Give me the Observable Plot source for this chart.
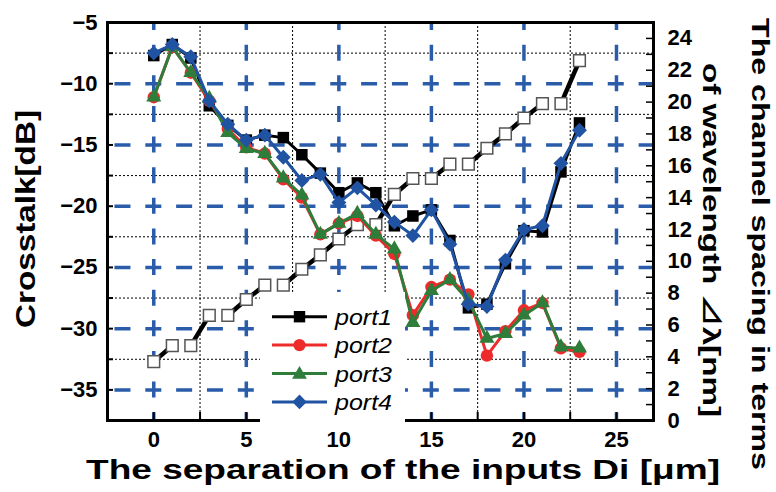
<!DOCTYPE html>
<html><head><meta charset="utf-8">
<script src="https://cdn.jsdelivr.net/npm/d3@7"></script>
<script src="https://cdn.jsdelivr.net/npm/@observablehq/plot@0.6"></script>
<style>body{margin:0;background:#fff} #chart{width:776px;height:492px}</style>
</head><body><div id="chart"></div>
<script>
// ---- data ----
const separation = [0,1,2,3,4,5,6,7,8,9,10,11,12,13,14,15,16,17,18,19,20,21,22,23];
const port1 = [-7.7,-6.8,-7.9,-11.8,-13.4,-14.6,-14.2,-14.4,-15.8,-17.3,-18.9,-18.1,-18.9,-21.6,-20.8,-20.3,-22.8,-28.3,-28.0,-24.7,-22.0,-22.1,-17.2,-13.2];
const port2 = [-11.1,-7.0,-9.1,-11.4,-13.7,-15.2,-15.7,-17.8,-19.3,-22.3,-21.4,-20.8,-22.4,-23.9,-28.9,-26.6,-26.0,-27.2,-32.2,-30.2,-28.5,-27.9,-31.6,-31.9];
const port3 = [-11.1,-7.0,-9.1,-11.2,-14.0,-15.3,-15.7,-17.7,-19.1,-22.3,-21.4,-20.6,-22.3,-23.5,-29.5,-26.9,-26.0,-27.7,-30.8,-30.4,-28.9,-27.9,-31.5,-31.6];
const port4 = [-7.5,-6.8,-7.8,-11.4,-13.3,-14.6,-14.2,-16.0,-17.9,-17.4,-19.7,-18.5,-19.9,-21.3,-22.4,-20.3,-23.1,-28.0,-28.2,-24.4,-21.9,-21.6,-16.5,-13.8];
const spacing = [3.7,4.7,4.7,6.6,6.6,7.6,8.5,8.5,9.5,10.4,11.4,12.3,12.3,14.2,15.2,15.2,16.1,16.1,17.1,18.0,19.0,19.9,19.9,22.6];
const seriesNames = ["port1","port2","port3","port4"];
const xLabelTicks = [0,5,10,15,20,25];
const xMinorGrid = [2.5,7.5,12.5,17.5,22.5];
const xTickMarks = [0,2.5,5,7.5,10,12.5,15,17.5,20,22.5,25];
const yLabelTicks = [-35,-30,-25,-20,-15,-10,-5];
const yMajorGrid = [-35,-30,-25,-20,-15,-10];
const yMinorGrid = [-32.5,-27.5,-22.5,-17.5,-12.5,-7.5];
const yTickMarks = [-35,-32.5,-30,-27.5,-25,-22.5,-20,-17.5,-15,-12.5,-10,-7.5];
const rLabelTicks = [0,2,4,6,8,10,12,14,16,18,20,22,24];
const rTickMarks = [1,2,3,4,5,6,7,8,9,10,11,12,13,14,15,16,17,18,19,20,21,22,23,24];

// ---- scales ----
const Y0 = -37.5, Y1 = -5, R1 = 25;
const toLeft = r => Y0 + r * (Y1 - Y0) / R1;
const toRight = v => (v - Y0) * R1 / (Y1 - Y0);

const blue = "#2a5caa";
const series = [
  {name: seriesNames[0], values: port1, color: "#000000", symbol: "square", r: 6.5, d3sym: d3.symbolSquare},
  {name: seriesNames[1], values: port2, color: "#ee2b2b", symbol: "circle", r: 6.2, d3sym: d3.symbolCircle},
  {name: seriesNames[2], values: port3, color: "#2e7d3b", symbol: "triangle", r: 5.6, d3sym: d3.symbolTriangle},
  {name: seriesNames[3], values: port4, color: "#2153a3", symbol: "diamond2", r: 6.7, d3sym: d3.symbolDiamond2}
];
const rowsOf = s => separation.map((x, i) => ({x, y: s.values[i]}));
const spacingRows = separation.map((x, i) => ({x, y: toLeft(spacing[i])}));
const spacingLinks = spacingRows.slice(1)
  .map((d, i) => ({x1: spacingRows[i].x, y1: spacingRows[i].y, x2: d.x, y2: d.y}))
  .filter(d => d.y1 !== d.y2);

const seriesMarks = series.flatMap(s => [
  Plot.line(rowsOf(s), {x: "x", y: "y", stroke: s.color, strokeWidth: 3}),
  Plot.dot(rowsOf(s), {x: "x", y: "y", symbol: s.symbol, r: s.r, fill: s.color, stroke: "none"})
]);

const plot = Plot.plot({
  width: 776, height: 492,
  marginLeft: 107, marginRight: 123, marginTop: 22, marginBottom: 72,
  x: {domain: [-2.5, 27]},
  y: {domain: [Y0, Y1]},
  style: {fontFamily: "'Liberation Sans', Arial, sans-serif", fontSize: "22px", fontWeight: "bold", background: "#fff", overflow: "visible", color: "#000"},
  marks: [
    Plot.ruleX(xMinorGrid, {stroke: "#000", strokeWidth: 1, strokeDasharray: "2,2"}),
    Plot.ruleY(yMinorGrid, {stroke: "#000", strokeWidth: 1, strokeDasharray: "2,2"}),
    Plot.ruleX(xLabelTicks, {stroke: blue, strokeWidth: 3.5, strokeDasharray: "16,14.625", strokeDashoffset: 8}),
    Plot.ruleY(yMajorGrid, {stroke: blue, strokeWidth: 3.5, strokeDasharray: "16,14.83", strokeDashoffset: 23.36}),
    Plot.link(spacingLinks, {x1: "x1", y1: "y1", x2: "x2", y2: "y2", stroke: "#000", strokeWidth: 4.5}),
    Plot.dot(spacingRows, {x: "x", y: "y", symbol: "square", r: 6.6, fill: "#fff", stroke: "#555", strokeWidth: 1.5}),
    ...seriesMarks,
    Plot.frame({stroke: "#000", strokeWidth: 3}),
    Plot.axisX(xTickMarks, {tickSize: -8, strokeWidth: 2, tickFormat: () => "", label: null}),
    Plot.axisX(xLabelTicks, {tickSize: 0, tickPadding: 11, label: null}),
    Plot.axisY(yTickMarks, {tickSize: -6, strokeWidth: 2, tickFormat: () => "", label: null}),
    Plot.axisY(yLabelTicks, {tickSize: 0, tickPadding: 10, label: null}),
    Plot.axisY(rTickMarks.map(toLeft), {anchor: "right", tickSize: -8, strokeWidth: 1.5, tickFormat: () => "", label: null}),
    Plot.axisY(rLabelTicks.map(toLeft), {anchor: "right", tickSize: 0, tickPadding: 14, tickFormat: v => String(Math.round(toRight(v))), label: null})
  ]
});

const svg = d3.select(plot);
// legend
const lg = svg.append("g");
lg.append("rect").attr("x", 260).attr("y", 292).attr("width", 145).attr("height", 133).attr("fill", "#fff");
const legendSizes = [130, 120, 95, 135];
series.forEach((s, i) => {
  const y = 316.7 + i * 28.4;
  lg.append("line").attr("x1", 272).attr("x2", 327).attr("y1", y).attr("y2", y)
    .attr("stroke", s.color).attr("stroke-width", 3);
  lg.append("path").attr("d", d3.symbol(s.d3sym, legendSizes[i])())
    .attr("transform", `translate(299.5,${y + (i === 2 ? 1 : 0)})`).attr("fill", s.color);
  lg.append("text").attr("x", 335).attr("y", y).attr("dy", "0.38em")
    .attr("font-style", "italic").attr("font-weight", "normal").attr("font-size", 22)
    .attr("text-anchor", "start")
    .attr("textLength", 57).attr("lengthAdjust", "spacingAndGlyphs")
    .text(s.name);
});
// axis titles
const title = (tx, ty, rot, size, len, txt) => svg.append("text")
  .attr("transform", `translate(${tx},${ty}) rotate(${rot})`)
  .attr("text-anchor", "middle").attr("font-size", size).attr("font-weight", "bold")
  .attr("font-family", "'Liberation Sans', 'Noto Sans CJK JP', sans-serif")
  .attr("textLength", len).attr("lengthAdjust", "spacingAndGlyphs").text(txt);
title(35, 219, -90, 28, 218, "Crosstalk[dB]");
title(403, 479, 0, 28, 634, "The separation of the inputs Di [μm]");
title(752, 244, 90, 24, 452, "The channel spacing in terms");
title(703, 240, 90, 24, 354, "of wavelength ⊿λ[nm]");

document.getElementById("chart").append(plot);
</script>
</body></html>
